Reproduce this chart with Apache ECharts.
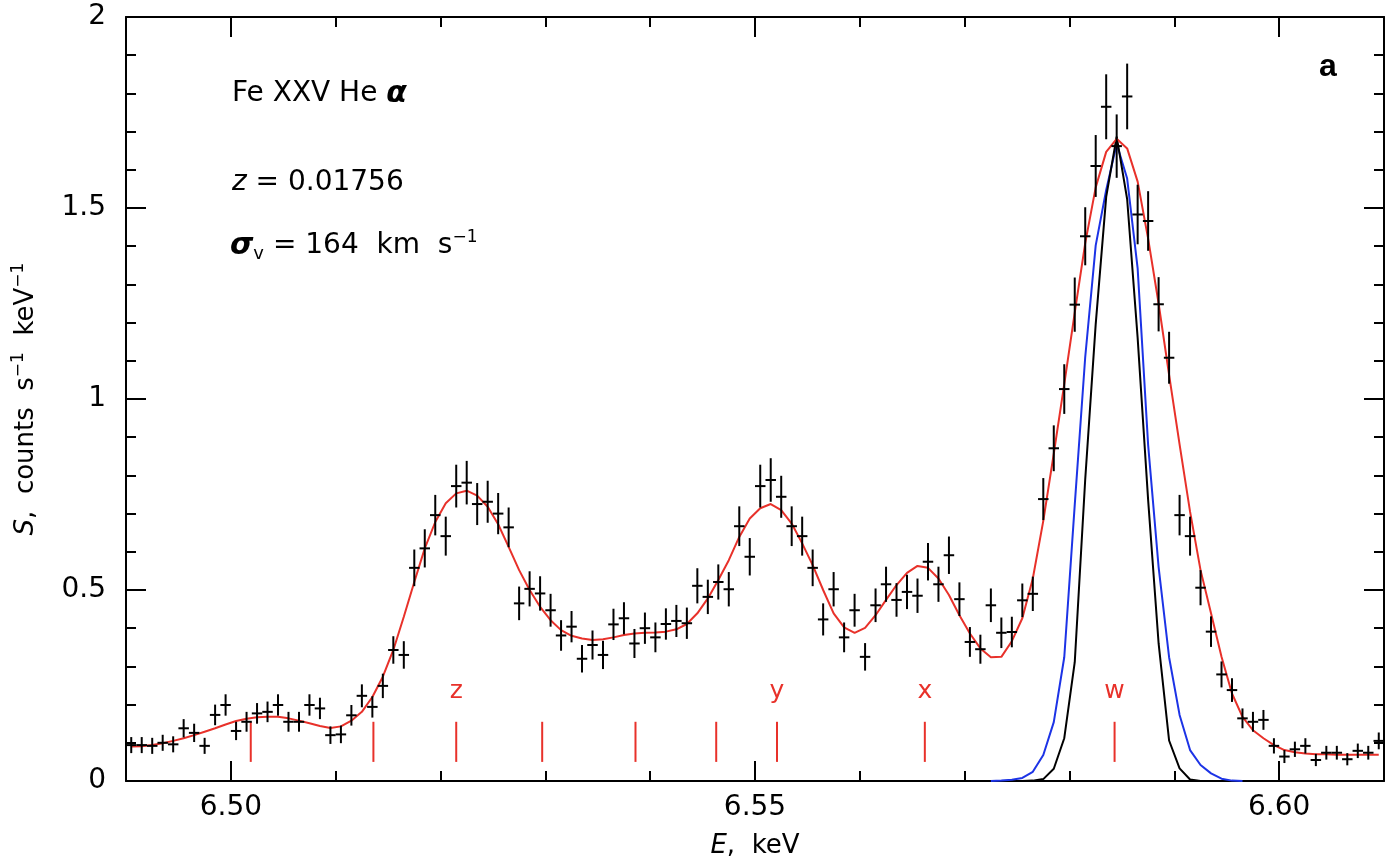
<!DOCTYPE html>
<html>
<head>
<meta charset="utf-8">
<title>Fe XXV He alpha</title>
<script src="https://cdn.jsdelivr.net/npm/echarts@6/dist/echarts.min.js"></script>
<style>
  html, body { margin: 0; padding: 0; background: #fff; }
  #chart { width: 1400px; height: 868px; }
</style>
</head>
<body>
<div id="chart"></div>
<script>
// 能量网格 (keV): 每个 bin 的中心
const binStart = 6.4905;
const binWidth = 0.001;

// 观测谱 S (counts s^-1 keV^-1)
const counts = [
  0.094, 0.094, 0.092, 0.100, 0.096, 0.138, 0.126, 0.092, 0.173, 0.199,
  0.131, 0.155, 0.177, 0.181, 0.199, 0.155, 0.155, 0.199, 0.190, 0.120,
  0.122, 0.172, 0.223, 0.194, 0.249, 0.343, 0.330, 0.558, 0.609, 0.696,
  0.641, 0.772, 0.781, 0.725, 0.731, 0.700, 0.664, 0.465, 0.503, 0.491,
  0.447, 0.381, 0.404, 0.320, 0.356, 0.330, 0.410, 0.426, 0.360, 0.400,
  0.376, 0.411, 0.419, 0.413, 0.511, 0.482, 0.521, 0.502, 0.667, 0.587,
  0.772, 0.788, 0.744, 0.667, 0.641, 0.558, 0.423, 0.502, 0.376, 0.447,
  0.325, 0.460, 0.515, 0.474, 0.495, 0.485, 0.574, 0.515, 0.591, 0.476,
  0.364, 0.345, 0.460, 0.388, 0.390, 0.473, 0.490, 0.738, 0.871, 1.026,
  1.247, 1.426, 1.610, 1.765, 1.662, 1.792, 1.483, 1.466, 1.248, 1.108,
  0.696, 0.641, 0.506, 0.391, 0.279, 0.238, 0.164, 0.155, 0.160, 0.092,
  0.064, 0.083, 0.092, 0.055, 0.074, 0.074, 0.057, 0.079, 0.074, 0.105
];

// 误差 (1 sigma)
const countErr = [
  0.021, 0.021, 0.021, 0.021, 0.021, 0.024, 0.024, 0.021, 0.027, 0.028,
  0.024, 0.026, 0.027, 0.027, 0.028, 0.026, 0.026, 0.028, 0.028, 0.023,
  0.023, 0.027, 0.030, 0.028, 0.032, 0.036, 0.036, 0.048, 0.050, 0.053,
  0.051, 0.056, 0.057, 0.055, 0.055, 0.054, 0.052, 0.044, 0.046, 0.045,
  0.043, 0.040, 0.041, 0.036, 0.038, 0.037, 0.041, 0.042, 0.038, 0.041,
  0.039, 0.041, 0.042, 0.041, 0.046, 0.045, 0.046, 0.045, 0.052, 0.049,
  0.056, 0.057, 0.055, 0.052, 0.051, 0.048, 0.042, 0.045, 0.039, 0.043,
  0.036, 0.044, 0.046, 0.044, 0.045, 0.045, 0.049, 0.046, 0.049, 0.044,
  0.039, 0.038, 0.044, 0.040, 0.040, 0.044, 0.045, 0.055, 0.060, 0.065,
  0.071, 0.076, 0.081, 0.085, 0.083, 0.086, 0.078, 0.078, 0.071, 0.068,
  0.053, 0.051, 0.046, 0.040, 0.034, 0.031, 0.026, 0.026, 0.026, 0.020,
  0.017, 0.020, 0.020, 0.016, 0.018, 0.018, 0.016, 0.019, 0.018, 0.022
];

// 拟合模型 (红线)
const modelFit = [
  0.090, 0.091, 0.094, 0.099, 0.105, 0.112, 0.120, 0.129, 0.138, 0.148,
  0.157, 0.163, 0.167, 0.168, 0.168, 0.164, 0.158, 0.151, 0.144, 0.139,
  0.143, 0.158, 0.181, 0.220, 0.273, 0.343, 0.430, 0.521, 0.609, 0.678,
  0.727, 0.753, 0.760, 0.747, 0.718, 0.672, 0.613, 0.552, 0.500, 0.456,
  0.421, 0.395, 0.380, 0.373, 0.369, 0.371, 0.376, 0.382, 0.386, 0.388,
  0.389, 0.391, 0.397, 0.411, 0.439, 0.478, 0.526, 0.578, 0.639, 0.687,
  0.714, 0.725, 0.709, 0.674, 0.622, 0.565, 0.500, 0.439, 0.402, 0.388,
  0.401, 0.434, 0.474, 0.513, 0.545, 0.563, 0.558, 0.530, 0.487, 0.434,
  0.386, 0.347, 0.324, 0.325, 0.366, 0.426, 0.530, 0.681, 0.857, 1.039,
  1.226, 1.408, 1.554, 1.647, 1.681, 1.656, 1.569, 1.420, 1.250, 1.063,
  0.881, 0.705, 0.552, 0.439, 0.325, 0.229, 0.168, 0.133, 0.112, 0.094,
  0.081, 0.075, 0.072, 0.070, 0.070, 0.069, 0.069, 0.069, 0.069, 0.069
];

// w 线轮廓 (蓝线, 从 bin 82 开始)
const blueStart = 82;
const blueProfile = [
  0.000, 0.001, 0.003, 0.008, 0.024, 0.068, 0.154, 0.324, 0.723, 1.110,
  1.402, 1.547, 1.668, 1.577, 1.342, 0.880, 0.560, 0.324, 0.173, 0.081,
  0.042, 0.020, 0.006, 0.001, 0.000
];

// w 线轮廓 (黑线, 从 bin 85 开始)
const blackStart = 85;
const blackProfile = [
  0.000, 0.001, 0.005, 0.032, 0.112, 0.311, 0.790, 1.196, 1.529, 1.687,
  1.523, 1.160, 0.736, 0.360, 0.106, 0.033, 0.004, 0.000
];

// 谱线位置 (红色竖线)
const lineEnergies = [6.5019, 6.5136, 6.5215, 6.5297, 6.5386, 6.5463, 6.5521, 6.5662, 6.5843];
const lineNames = ['', '', 'z', '', '', '', 'y', 'x', 'w'];

// 坐标轴刻度
const xMajorTicks = [6.50, 6.55, 6.60];
const xMinorTicks = [6.51, 6.52, 6.53, 6.54, 6.56, 6.57, 6.58, 6.59];

const FONT = '"DejaVu Sans", Verdana, sans-serif';
const BOLD_FONT = '"Liberation Sans", Arial, sans-serif';
const RED = '#e8312a';
const BLUE = '#1c33e6';

function energyAt(i) {
    return +(binStart + binWidth * i).toFixed(4);
}

const dataPoints = counts.map((v, i) => [energyAt(i), v, countErr[i]]);
const modelData = modelFit.map((v, i) => [energyAt(i), v]);
const blueData = blueProfile.map((v, i) => [energyAt(blueStart + i), v]);
const blackData = blackProfile.map((v, i) => [energyAt(blackStart + i), v]);
const markerData = lineEnergies.map(e => [e, 0]);

function renderCross(params, api) {
    const x = api.value(0);
    const y = api.value(1);
    const err = api.value(2);
    const c = api.coord([x, y]);
    const top = api.coord([x, y + err]);
    const bot = api.coord([x, y - err]);
    const left = api.coord([x - binWidth / 2, y]);
    const right = api.coord([x + binWidth / 2, y]);
    const style = { stroke: '#000', lineWidth: 2 };
    return {
        type: 'group',
        children: [
            { type: 'line', shape: { x1: c[0], y1: top[1], x2: c[0], y2: bot[1] }, style: style },
            { type: 'line', shape: { x1: left[0], y1: c[1], x2: right[0], y2: c[1] }, style: style }
        ]
    };
}

function renderMarker(params, api) {
    const e = api.value(0);
    const p0 = api.coord([e, 0.05]);
    const p1 = api.coord([e, 0.155]);
    const pl = api.coord([e, 0.233]);
    const children = [
        { type: 'line', shape: { x1: p0[0], y1: p0[1], x2: p1[0], y2: p1[1] }, style: { stroke: RED, lineWidth: 2 } }
    ];
    const name = lineNames[params.dataIndex];
    if (name) {
        children.push({
            type: 'text',
            x: pl[0],
            y: pl[1],
            style: {
                text: name, fill: RED, font: '25px ' + FONT,
                align: 'center', verticalAlign: 'middle'
            }
        });
    }
    return { type: 'group', children: children };
}

const chart = echarts.init(document.getElementById('chart'));

const axisLine = { show: true, lineStyle: { color: '#000', width: 2 } };
const tickStyle = { color: '#000', width: 2 };

const option = {
    animation: false,
    backgroundColor: '#fff',
    grid: { left: 126, right: 16, top: 17, bottom: 87 },
    xAxis: [
        {
            type: 'value', min: 6.49, max: 6.61, position: 'bottom',
            axisLine: axisLine,
            axisTick: { inside: true, length: 20, lineStyle: tickStyle, customValues: xMajorTicks },
            axisLabel: {
                customValues: xMajorTicks, formatter: v => v.toFixed(2),
                color: '#000', fontSize: 28, fontFamily: FONT, margin: 13
            },
            splitLine: { show: false },
            name: '{i|E},  keV',
            nameLocation: 'middle',
            nameGap: 52,
            nameTextStyle: {
                color: '#000', fontSize: 26, fontFamily: FONT,
                rich: { i: { fontStyle: 'italic', fontSize: 26, fontFamily: FONT, color: '#000' } }
            }
        },
        {
            type: 'value', min: 6.49, max: 6.61, position: 'bottom',
            axisLine: { show: false },
            axisTick: { inside: true, length: 10, lineStyle: tickStyle, customValues: xMinorTicks },
            axisLabel: { show: false },
            splitLine: { show: false }
        },
        {
            type: 'value', min: 6.49, max: 6.61, position: 'top',
            axisLine: axisLine,
            axisTick: { inside: true, length: 20, lineStyle: tickStyle, customValues: xMajorTicks },
            axisLabel: { show: false },
            splitLine: { show: false }
        },
        {
            type: 'value', min: 6.49, max: 6.61, position: 'top',
            axisLine: { show: false },
            axisTick: { inside: true, length: 10, lineStyle: tickStyle, customValues: xMinorTicks },
            axisLabel: { show: false },
            splitLine: { show: false }
        }
    ],
    yAxis: [
        {
            type: 'value', min: 0, max: 2, interval: 0.5, position: 'left',
            axisLine: axisLine,
            axisTick: { inside: true, length: 20, lineStyle: tickStyle },
            minorTick: { show: true, splitNumber: 5, length: 10, lineStyle: tickStyle },
            axisLabel: { color: '#000', fontSize: 28, fontFamily: FONT, margin: 20 },
            splitLine: { show: false },
            name: '{i|S},  counts  s{s|−1}  keV{s|−1}',
            nameLocation: 'middle',
            nameGap: 84,
            nameTextStyle: {
                color: '#000', fontSize: 26, fontFamily: FONT, lineHeight: 32,
                rich: {
                    i: { fontStyle: 'italic', fontSize: 26, fontFamily: FONT, color: '#000', lineHeight: 32 },
                    s: { fontSize: 17, fontFamily: FONT, color: '#000', verticalAlign: 'top', lineHeight: 32 }
                }
            }
        },
        {
            type: 'value', min: 0, max: 2, interval: 0.5, position: 'right',
            axisLine: axisLine,
            axisTick: { inside: true, length: 20, lineStyle: tickStyle },
            minorTick: { show: true, splitNumber: 5, length: 10, lineStyle: tickStyle },
            axisLabel: { show: false },
            splitLine: { show: false }
        }
    ],
    graphic: [
        {
            type: 'text', x: 232, y: 94,
            style: {
                text: 'Fe XXV He {a|α}',
                font: '28px ' + FONT, fill: '#000', verticalAlign: 'middle',
                rich: { a: { fontStyle: 'italic', fontWeight: 'bold', fontSize: 30, fontFamily: FONT } }
            }
        },
        {
            type: 'text', x: 232, y: 183,
            style: {
                text: '{i|z} = 0.01756',
                font: '28px ' + FONT, fill: '#000', verticalAlign: 'middle',
                rich: { i: { fontStyle: 'italic', fontSize: 28, fontFamily: FONT } }
            }
        },
        {
            type: 'text', x: 230, y: 246,
            style: {
                text: '{g|σ}{v|v} = 164  km  s{s|−1}',
                font: '28px ' + FONT, fill: '#000', verticalAlign: 'middle', lineHeight: 34,
                rich: {
                    g: { fontStyle: 'italic', fontWeight: 'bold', fontSize: 30, fontFamily: FONT, lineHeight: 34 },
                    v: { fontSize: 18, fontFamily: FONT, verticalAlign: 'bottom', lineHeight: 34 },
                    s: { fontSize: 17, fontFamily: FONT, verticalAlign: 'top', lineHeight: 34 }
                }
            }
        },
        {
            type: 'text', x: 1328, y: 67,
            style: {
                text: 'a', font: 'bold 32px ' + BOLD_FONT, fill: '#000',
                align: 'center', verticalAlign: 'middle'
            }
        }
    ],
    series: [
        {
            type: 'line', name: 'blue', data: blueData, showSymbol: false, z: 2,
            lineStyle: { color: BLUE, width: 2 }, itemStyle: { color: BLUE }
        },
        {
            type: 'line', name: 'black', data: blackData, showSymbol: false, z: 3,
            lineStyle: { color: '#000', width: 2 }, itemStyle: { color: '#000' }
        },
        {
            type: 'line', name: 'model', data: modelData, showSymbol: false, z: 4,
            lineStyle: { color: RED, width: 2 }, itemStyle: { color: RED }
        },
        {
            type: 'custom', name: 'data', data: dataPoints, z: 5,
            encode: { x: 0, y: 1 },
            renderItem: renderCross
        },
        {
            type: 'custom', name: 'lines', data: markerData, z: 4,
            encode: { x: 0, y: 1 },
            renderItem: renderMarker
        }
    ]
};

chart.setOption(option);

window.addEventListener('resize', () => {
    chart && chart.resize();
});
</script>
</body>
</html>
